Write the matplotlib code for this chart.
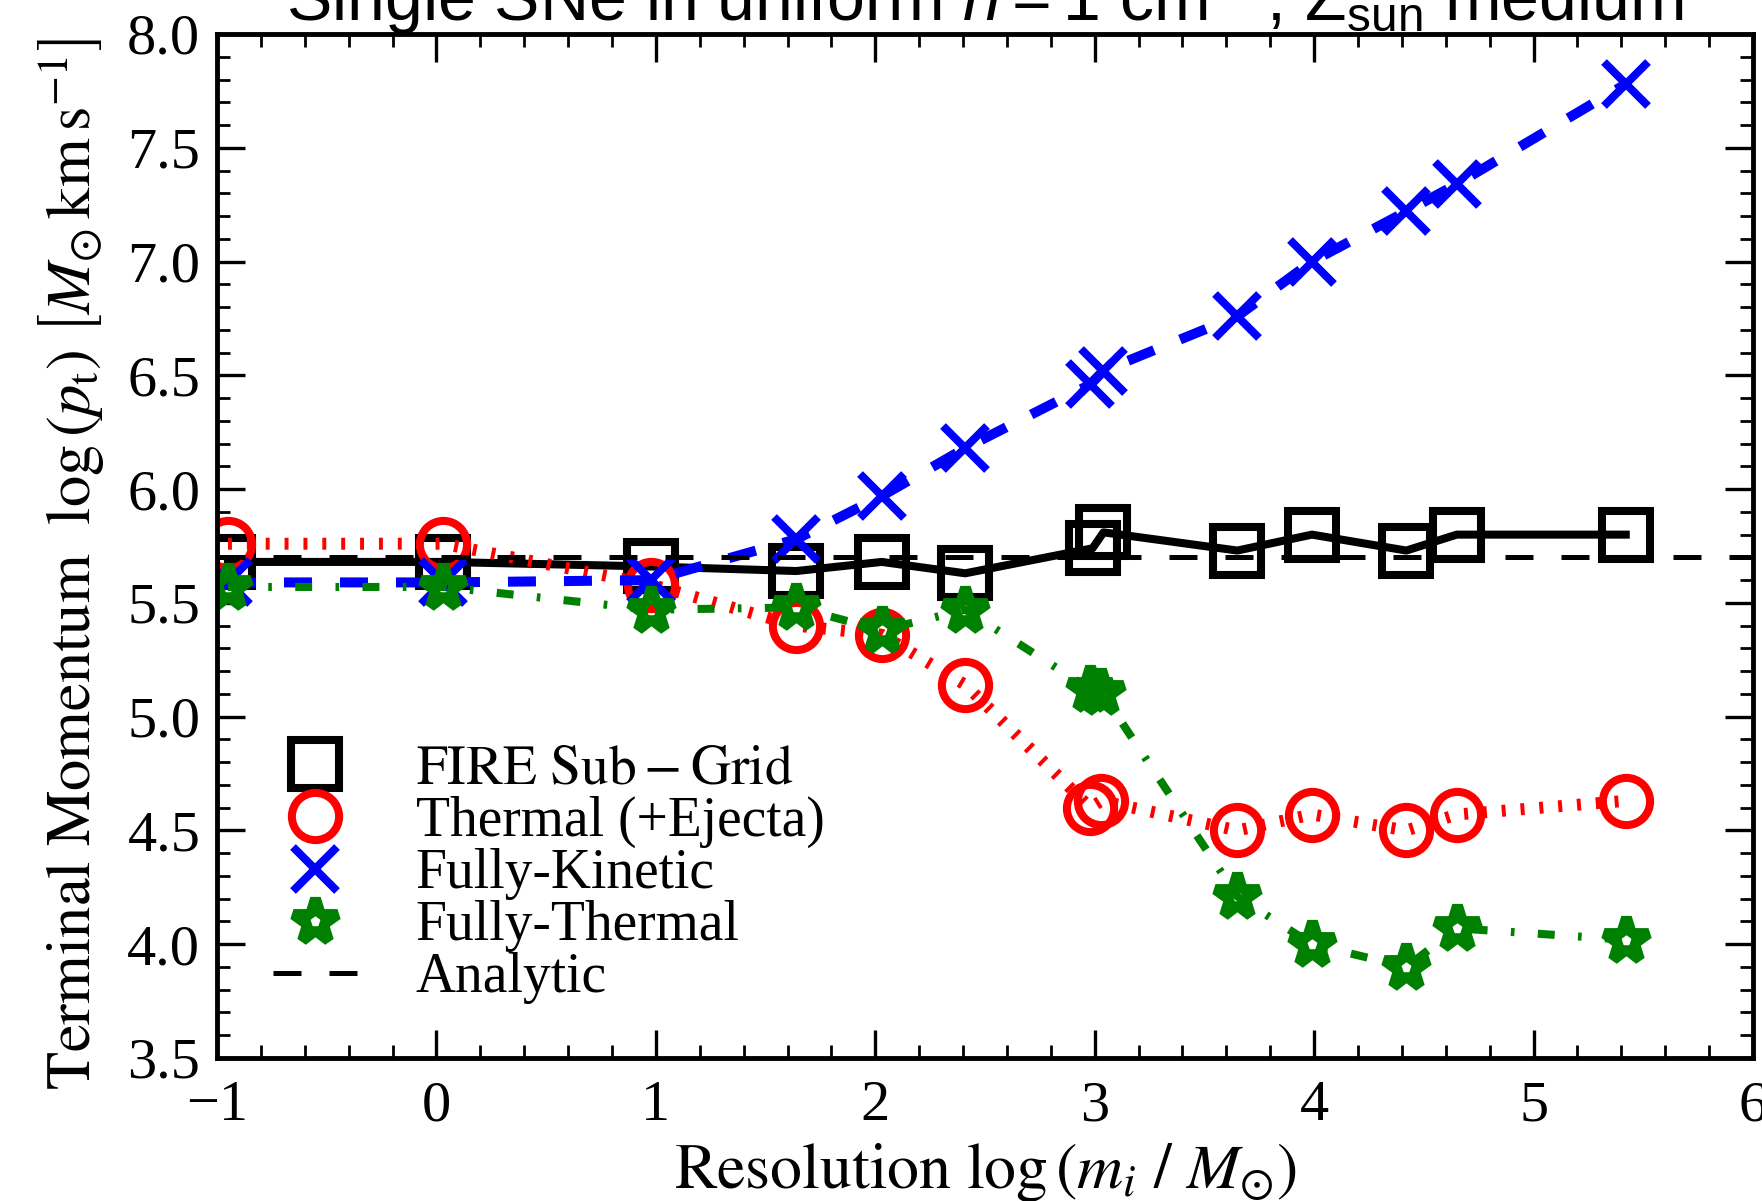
import matplotlib
matplotlib.use('Agg')
import matplotlib.pyplot as plt
from matplotlib.lines import Line2D
from matplotlib.ticker import MultipleLocator, FormatStrFormatter

plt.rcParams['font.family'] = ['Liberation Serif', 'DejaVu Serif']
plt.rcParams['mathtext.fontset'] = 'stix'
# sans fonts for the title's math (math_fontfamily='custom')
plt.rcParams['mathtext.rm'] = 'Liberation Sans'
plt.rcParams['mathtext.it'] = 'Liberation Sans:italic'
plt.rcParams['mathtext.bf'] = 'Liberation Sans:bold'
plt.rcParams['mathtext.sf'] = 'Liberation Sans'

# resolution log(m_i / Msun)
res_fire = [-0.95, 0.03, 0.98, 1.64, 2.03, 2.41, 2.99, 3.04, 3.65, 3.99, 4.42, 4.65, 5.42]
res_thermal = [-0.95, 0.03, 0.98, 1.64, 2.03, 2.41, 2.98, 3.03, 3.65, 3.99, 4.42, 4.65, 5.42]
res_kinetic = [-0.95, 0.03, 0.98, 1.64, 2.03, 2.41, 2.98, 3.04, 3.65, 3.99, 4.42, 4.65, 5.42]
res_fullytherm = [-0.95, 0.03, 0.98, 1.64, 2.03, 2.41, 2.98, 3.03, 3.65, 3.99, 4.42, 4.65, 5.42]

# terminal momentum log(p_t)
p_fire = [5.68, 5.68, 5.66, 5.64, 5.68, 5.63, 5.74, 5.81, 5.73, 5.80, 5.73, 5.80, 5.80]
p_thermal = [5.76, 5.76, 5.58, 5.40, 5.36, 5.14, 4.60, 4.63, 4.50, 4.57, 4.50, 4.57, 4.63]
p_kinetic = [5.59, 5.59, 5.60, 5.78, 5.97, 6.18, 6.46, 6.52, 6.76, 7.00, 7.22, 7.34, 7.78]
p_fullytherm = [5.57, 5.57, 5.47, 5.48, 5.38, 5.47, 5.12, 5.11, 4.21, 4.00, 3.90, 4.07, 4.02]
p_analytic = 5.70

labels = [r'$\rm FIRE\ Sub-Grid$', 'Thermal (+Ejecta)', 'Fully-Kinetic', 'Fully-Thermal', 'Analytic']

fig = plt.figure(figsize=(17.62, 12.01), dpi=100)
ax = fig.add_axes([217 / 1762, 143 / 1201, 1536 / 1762, 1024 / 1201])

sq = dict(marker='s', ms=34, mfc='none', mec='black', mew=5.8)
circ = dict(marker='o', ms=34, mfc='none', mec='red', mew=5.8)
cross = dict(marker='x', ms=32, mec='blue', mew=5.8)
star = dict(marker='*', ms=33, mfc='none', mec='green', mew=7.8)

ax.plot(res_fire, p_fire, color='black', ls='-', lw=5.8, **sq)
ax.plot(res_thermal, p_thermal, color='red', ls=(0, (0.33, 1.25)), lw=8.6, **circ)
ax.plot(res_kinetic, p_kinetic, color='blue', ls=(0, (2.8, 2.8)), lw=7.2, **cross)
ax.plot(res_fullytherm, p_fullytherm, color='green', ls=(0, (2.1, 2.9, 0.45, 2.9)), lw=5.8, **star)
ax.axhline(p_analytic, color='black', ls=(0, (5.6, 5.6)), lw=3.6)

ax.set_xlim(-1, 6)
ax.set_ylim(3.5, 8.0)
ax.xaxis.set_major_locator(MultipleLocator(1))
ax.xaxis.set_minor_locator(MultipleLocator(0.2))
ax.yaxis.set_major_locator(MultipleLocator(0.5))
ax.yaxis.set_minor_locator(MultipleLocator(0.1))
ax.yaxis.set_major_formatter(FormatStrFormatter('%.1f'))

ax.tick_params(which='both', direction='in', top=True, right=True)
ax.tick_params(which='major', length=20, width=2.4, labelsize=42)
ax.tick_params(which='minor', length=9.5, width=2)
ax.tick_params(axis='x', pad=16)
ax.tick_params(axis='y', pad=12)
for s in ax.spines.values():
    s.set_linewidth(3.5)

ax.set_xlabel(r'${\rm Resolution}\ \log{\left(m_{i}\ /\ M_{\odot}\right)}$', fontsize=46)
ax.xaxis.set_label_coords(0.5, -0.127)
ax.xaxis.label.set_va('baseline')
ax.set_ylabel(r'${\rm Terminal\ Momentum}\ \ \log{\left(p_{\rm t}\right)}\ \left[M_{\odot}\,{\rm km\,s^{-1}}\right]$',
              fontsize=45)
ax.yaxis.set_label_coords(-0.0716, 0.482)

fig.text(985 / 1762, 1 - 21 / 1201,
         r'Single SNe in uniform $n = 1\ \mathrm{cm^{-3}}$, $\mathrm{Z}_{\mathrm{sun}}$ medium',
         ha='center', va='baseline', fontsize=49, family='Liberation Sans', math_fontfamily='custom')

handles = [
    Line2D([], [], ls='none', **sq),
    Line2D([], [], ls='none', **circ),
    Line2D([], [], ls='none', **cross),
    Line2D([], [], ls='none', **star),
    Line2D([], [], color='black', ls=(0, (5.6, 5.6)), lw=3.6),
]
ax.legend(handles, labels, loc='upper left', bbox_to_anchor=(0.0365, 0.3067), frameon=False,
          fontsize=40, handlelength=1.51, handletextpad=1.06, labelspacing=0.0,
          borderpad=0, borderaxespad=0, numpoints=1)

fig.savefig('out.png', dpi=100)
